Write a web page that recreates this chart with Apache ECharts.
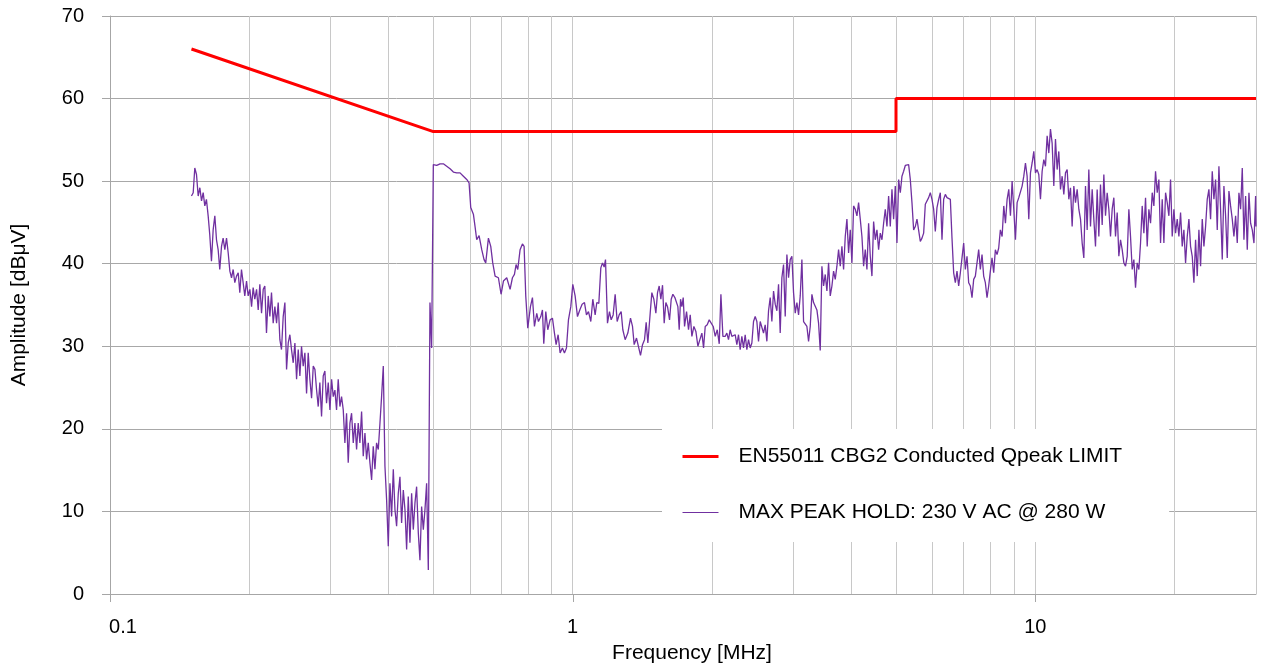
<!DOCTYPE html>
<html>
<head>
<meta charset="utf-8">
<script src="https://cdn.jsdelivr.net/npm/echarts@6/dist/echarts.min.js"></script>
<style>
  html, body { margin: 0; padding: 0; background: #fff; }
  #chart { width: 1262px; height: 665px; }
</style>
</head>
<body>
<div id="chart"></div>
<script>
// EN55011 class B group 2 conducted quasi-peak limit: [MHz, dBuV]
const limitLine = [[0.15, 66], [0.5, 56], [5, 56], [5, 60], [30, 60]];

// Max peak hold scan, 230 V AC @ 280 W: [MHz, dBuV], split by frequency band
const scanBandA = [
  [0.1500,48.2],[0.1513,48.6],[0.1525,51.6],[0.1538,50.8],[0.1551,48.2],[0.1564,49.2],[0.1577,47.6],[0.1590,48.6],[0.1603,47.0],[0.1616,47.8],[0.1630,45.8],[0.1643,43.5],
  [0.1657,40.3],[0.1671,44.1],[0.1685,45.8],[0.1699,42.9],[0.1713,41.7],[0.1727,39.3],[0.1742,42.1],[0.1756,43.1],[0.1771,41.7],[0.1786,43.1],[0.1801,41.3],[0.1816,39.1],
  [0.1831,38.3],[0.1846,39.3],[0.1861,37.7],[0.1877,38.5],[0.1893,38.9],[0.1908,36.5],[0.1924,39.3],[0.1940,37.7],[0.1956,36.1],[0.1973,37.9],[0.1989,36.1],[0.2006,36.9],
  [0.2023,34.8],[0.2039,37.1],[0.2056,35.7],[0.2074,36.9],[0.2091,34.4],[0.2108,37.5],[0.2126,34.0],[0.2144,36.9],[0.2161,37.3],[0.2179,31.6],[0.2198,36.1],[0.2216,33.6],
  [0.2234,36.5],[0.2253,32.8],[0.2272,34.8],[0.2291,32.8],[0.2310,35.3],[0.2329,30.8],[0.2348,29.6],[0.2368,33.6],[0.2388,35.3],[0.2408,27.2],[0.2428,30.4],[0.2448,31.4],
  [0.2468,29.6],[0.2489,28.0],[0.2510,30.4],[0.2531,26.0],[0.2552,29.6],[0.2573,26.4],[0.2594,30.0],[0.2616,27.6],[0.2638,29.2],[0.2660,24.3],[0.2682,29.2],[0.2704,26.0],
  [0.2727,23.7],[0.2750,27.6],[0.2773,27.2],[0.2796,24.7],[0.2819,22.7],[0.2842,25.6],[0.2866,21.5],[0.2890,26.4],[0.2914,27.0],[0.2938,23.1],[0.2963,25.6],[0.2988,22.3],
  [0.3013,26.0],[0.3038,23.9],[0.3063,24.7],[0.3088,22.3],[0.3114,26.0],[0.3140,22.7],[0.3166,23.9],[0.3193,22.3],[0.3219,18.3],[0.3246,21.9],[0.3273,15.9],[0.3301,20.7],
  [0.3328,21.9],[0.3356,18.3],[0.3384,20.7],[0.3412,17.5],[0.3440,20.7],[0.3469,18.3],[0.3498,22.1],[0.3527,16.7],[0.3557,19.5],[0.3586,16.3],[0.3616,18.3],[0.3646,15.9],
  [0.3677,13.8],[0.3707,17.9],[0.3738,15.1],[0.3769,18.3],[0.3801,17.5],[0.3833,20.7],[0.3864,23.9],[0.3897,27.6],[0.3929,15.5],[0.3962,11.4],[0.3995,5.8],[0.4028,13.4],
  [0.4062,9.4],[0.4096,15.1],[0.4130,10.2],[0.4164,8.2],[0.4199,12.2],[0.4234,14.2],[0.4269,8.6],[0.4305,12.6],[0.4341,10.2],[0.4377,5.4],[0.4413,11.8],[0.4450,6.2],
  [0.4487,12.2],[0.4525,7.8],[0.4562,11.0],[0.4600,13.0],[0.4639,7.4],[0.4677,4.1],[0.4716,10.6],[0.4756,7.8],[0.4795,10.2],[0.4835,13.4],[0.4876,2.9],[0.4916,35.3],
  [0.4957,29.8],[0.4999,52.0]
];

const scanBandB = [
  [0.5084,51.9],[0.5169,52.1],[0.5255,52.1],[0.5343,51.8],[0.5433,51.5],[0.5524,51.1],[0.5616,51.0],[0.5710,51.0],[0.5806,50.6],[0.5903,50.2],[0.5972,49.8],[0.6022,46.8],
  [0.6102,46.0],[0.6153,44.5],[0.6204,42.9],[0.6277,43.4],[0.6361,41.7],[0.6435,40.5],[0.6489,40.1],[0.6576,43.1],[0.6653,42.1],[0.6719,40.1],[0.6798,38.5],[0.6911,38.3],
  [0.7004,36.3],[0.7086,37.9],[0.7204,38.3],[0.7325,36.9],[0.7411,38.3],[0.7485,38.7],[0.7547,39.9],[0.7610,39.3],[0.7699,41.7],[0.7789,42.4],[0.7854,42.1],[0.7919,36.1],
  [0.7999,32.2],[0.8106,34.8],[0.8187,35.9],[0.8269,32.4],[0.8365,34.0],[0.8435,33.0],[0.8534,33.6],[0.8605,34.4],[0.8662,30.3],[0.8749,34.2],[0.8836,32.0],[0.8940,33.2],
  [0.9044,33.4],[0.9135,31.6],[0.9211,30.2],[0.9303,31.4],[0.9396,29.2],[0.9506,29.8],[0.9601,29.2],[0.9697,29.8],[0.9794,33.2],[0.9909,34.8],[1.0008,37.5],[1.0125,36.1],
  [1.0244,33.6],[1.0363,34.4],[1.0484,35.1],[1.0607,35.3],[1.0713,33.8],[1.0820,34.2],[1.0947,33.0],[1.1056,35.7],[1.1186,33.8],[1.1279,35.3],[1.1392,35.2],[1.1506,39.5],
  [1.1602,40.1],[1.1699,39.6],[1.1777,40.5],[1.1894,32.8],[1.2013,34.2],[1.2114,33.2],[1.2235,33.8],[1.2357,36.3],[1.2481,33.0],[1.2606,33.8],[1.2732,34.2],[1.2838,32.0],
  [1.2988,30.8],[1.3162,31.6],[1.3338,33.4],[1.3472,32.4],[1.3584,30.2],[1.3743,31.0],[1.3880,30.9],[1.4019,28.9],[1.4160,30.2],[1.4301,30.8],[1.4420,32.9],[1.4541,30.4],
  [1.4711,34.0],[1.4833,36.5],[1.4982,35.7],[1.5132,34.0],[1.5258,36.5],[1.5385,37.3],[1.5513,35.7],[1.5643,37.4],[1.5773,32.8],[1.5905,35.3],[1.6037,34.8],[1.6198,33.2],
  [1.6333,35.7],[1.6469,36.3],[1.6634,35.9],[1.6772,36.1],[1.6884,34.8],[1.6997,32.0],[1.7110,35.7],[1.7224,34.8],[1.7339,35.9],[1.7454,32.4],[1.7629,34.2],[1.7805,32.0],
  [1.7954,33.8],[1.8103,31.2],[1.8285,32.4],[1.8468,31.8],[1.8653,30.0],[1.8839,30.8],[1.9028,31.6],[1.9187,29.8],[1.9346,32.4],[1.9540,32.6],[1.9736,33.2],[1.9933,33.2],
  [2.0133,32.4],[2.0334,31.2],[2.0538,32.0],[2.0744,30.3],[2.0917,36.3],[2.1126,31.2]
];

const scanBandC = [
  [2.1365,31.2],[2.1544,31.6],[2.1723,30.8],[2.1904,32.0],[2.2087,31.2],[2.2271,31.0],[2.2457,31.4],[2.2644,30.2],[2.2833,31.4],
  [2.3023,29.6],[2.3215,31.2],[2.3408,29.8],[2.3604,31.4],[2.3800,29.6],[2.3999,30.8],[2.4199,29.8],[2.4400,30.4],[2.4604,33.0],[2.4809,33.6],[2.5016,33.0],[2.5224,30.6],
  [2.5435,33.0],[2.5647,32.8],[2.5861,31.6],[2.6076,32.6],[2.6294,30.6],[2.6513,34.3],[2.6734,35.9],[2.6957,33.0],[2.7181,36.7],[2.7408,35.1],[2.7637,34.3],[2.7867,37.5],
  [2.8099,31.6],[2.8333,38.3],[2.8569,39.9],[2.8808,33.6],[2.9048,41.1],[2.9290,38.3],[2.9534,40.5],[2.9780,40.9],[3.0028,36.5],[3.0279,34.0],[3.0531,35.3],[3.0786,33.8],
  [3.1042,36.1],[3.1301,40.5],[3.1562,33.0],[3.1825,33.2],[3.2090,32.4],[3.2358,30.6],[3.2627,32.4],[3.2899,36.3],[3.3173,35.3],[3.3450,35.1],[3.3729,34.4],[3.4010,32.8],
  [3.4293,29.5],[3.4579,39.7],[3.4867,37.3],[3.5158,38.7],[3.5451,36.7],[3.5746,40.1],[3.6044,36.1],[3.6345,37.3],[3.6648,39.1],[3.6953,38.1],[3.7261,39.7],[3.7572,41.7],
  [3.7885,39.7],[3.8201,42.1],[3.8519,39.3],[3.8840,43.3],[3.9164,45.4],[3.9491,41.3],[3.9820,44.1],[4.0152,40.1],[4.0486,47.0],[4.0824,46.6],[4.1164,45.8],[4.1507,47.4],
  [4.1853,45.4],[4.2202,43.3],[4.2554,39.7],[4.2908,41.7],[4.3266,39.3],[4.3627,44.9],[4.3990,40.9],[4.4357,38.5],[4.4727,45.1],[4.5100,42.9],[4.5476,44.1],[4.5855,41.7],
  [4.6237,43.7],[4.6622,42.9],[4.7011,44.9],[4.7403,46.6],[4.7798,44.5],[4.8197,48.2],[4.8598,44.5],[4.9003,49.0],[4.9412,45.4],[4.9824,49.4],[5.0239,42.5],[5.0658,50.2],
  [5.1080,48.6],[5.1506,50.6],[5.1935,51.2],[5.2368,51.9],[5.2805,51.8],[5.3245,52.0],[5.3689,50.2],[5.4136,47.4],[5.4587,44.1],[5.5042,44.5],[5.5501,45.4],[5.5964,45.6],
  [5.6430,42.7],[5.6900,43.1],[5.7375,43.7],[5.7853,47.2],[5.8335,47.4],[5.8822,48.0],[5.9312,48.6],[5.9806,47.8],[6.0305,46.6],[6.0807,43.9],[6.1314,46.8],[6.1825,47.8],
  [6.2341,48.6],[6.2861,42.9],[6.3385,47.8],[6.3913,48.4],[6.4446,48.0],[6.4983,47.9],[6.5525,47.8],[6.6071,43.1],[6.6622,38.9],[6.7177,37.7],[6.7737,39.1],[6.8302,37.3],
  [6.8871,38.9],[6.9445,40.7],[7.0024,42.5],[7.0608,39.3],[7.1196,40.9],[7.1790,37.7],[7.2388,37.3],[7.2991,35.9],[7.3600,38.1],[7.4213,38.5],[7.4832,38.7],[7.5456,41.7],
  [7.6084,39.3],[7.6718,41.1],[7.7358,38.5],[7.8003,37.7],[7.8653,35.9],[7.9308,37.3],[7.9970,39.1],[8.0636,40.7],[8.1308,38.9],[8.1986,41.7],[8.2670,41.1],[8.3359,41.9],
  [8.4053,44.1]
];

const scanBandD = [
  [8.4786,43.3],[8.5493,47.0],[8.6206,44.9],[8.6924,47.8],[8.7649,49.0],
  [8.8379,45.8],[8.9116,50.0],[8.9859,46.6],[9.0608,42.9],[9.1363,47.4],[9.2124,48.0],[9.2892,48.2],[9.3667,49.4],[9.4447,50.6],[9.5235,52.2],[9.6028,50.6],[9.6829,45.4],
  [9.7636,51.0],[9.8450,52.2],[9.9271,53.6],[10.010,51.0],[10.093,51.4],[10.177,50.8],[10.262,47.8],[10.348,51.2],[10.434,52.6],[10.521,51.8],[10.609,55.5],[10.697,53.4],
  [10.786,56.3],[10.876,54.6],[10.967,49.4],[11.058,55.1],[11.150,51.4],[11.243,53.6],[11.337,49.0],[11.432,50.6],[11.527,48.4],[11.623,51.0],[11.720,51.4],[11.818,47.8],
  [11.916,49.2],[12.015,44.5],[12.116,49.4],[12.217,47.4],[12.318,49.0],[12.421,46.6],[12.525,45.4],[12.629,42.5],[12.734,40.7],[12.840,49.4],[12.947,44.1],[13.055,51.4],
  [13.164,44.5],[13.274,49.0],[13.384,45.4],[13.496,42.1],[13.608,49.0],[13.722,43.3],[13.836,49.6],[13.952,44.7],[14.068,50.8],[14.185,45.8],[14.303,48.6],[14.423,46.6],
  [14.543,43.3],[14.664,46.6],[14.786,48.0],[14.910,43.3],[15.034,46.2],[15.159,40.9],[15.286,42.9],[15.413,41.7],[15.541,40.1],[15.671,39.7],[15.802,40.9],[15.933,46.6],
  [16.066,43.3],[16.200,39.3],[16.335,40.5],[16.471,37.1],[16.608,40.1],[16.747,39.3],[16.887,42.5],[17.027,47.0],[17.169,43.7],[17.312,48.0],[17.457,42.1],[17.602,46.6],
  [17.749,44.9],[17.897,48.6],[18.046,47.0],[18.196,51.2],[18.348,48.6],[18.501,50.2],[18.655,42.5],[18.811,47.8],[18.968,42.5],[19.126,48.6],[19.285,47.4],[19.446,45.8],
  [19.608,50.2],[19.771,43.3],[19.936,46.6],[20.102,43.7],[20.270,45.4],[20.439,43.3],[20.609,46.2],[20.781,42.1],[20.954,44.1],[21.129,40.1],[21.305,43.3],[21.483,45.4],
  [21.662,42.1],[21.842,40.9],[22.024,37.7],[22.208,42.9],[22.393,38.5],[22.580,44.1],[22.768,39.7],[22.958,45.4],[23.149,42.1],[23.342,44.5],[23.536,47.8],[23.733,49.0],
  [23.930,45.4],[24.130,51.2],[24.331,47.8],[24.534,50.2],[24.738,44.1],[24.944,51.8],[25.152,46.6],[25.362,40.5],[25.573,49.4],[25.787,45.8],[26.002,40.7],[26.218,48.8],
  [26.437,47.0],[26.657,45.4],[26.879,43.3],[27.104,45.8],[27.329,42.5],[27.557,48.6],[27.787,46.6],[28.019,51.6],[28.252,42.9],[28.488,48.2],[28.725,41.7],[28.965,48.6],
  [29.206,44.9],[29.449,44.1],[29.695,42.5],[29.942,48.2],[30.000,44.5]
];

// Log-axis gridlines between the decades, plus the closing edge at 30 MHz
const minorGridFreqs = [0.2, 0.3, 0.4, 0.5, 0.6, 0.7, 0.8, 0.9, 2, 3, 4, 5, 6, 7, 8, 9, 20, 30];
const xTickLabels = [0.1, 1, 10];

const LIMIT_NAME = 'EN55011 CBG2 Conducted Qpeak LIMIT';
const SCAN_NAME = 'MAX PEAK HOLD: 230 V AC @ 280 W';
const FONT = '"Liberation Sans", Arial, Helvetica, sans-serif';
const AXIS_GREY = '#a6a6a6';

const scanData = [].concat(scanBandA, scanBandB, scanBandC, scanBandD);

const chart = echarts.init(document.getElementById('chart'), null, { renderer: 'canvas' });

chart.setOption({
  animation: false,
  backgroundColor: '#ffffff',
  textStyle: { fontFamily: FONT },
  grid: { left: 110, right: 6, top: 16, bottom: 71, containLabel: false, outerBoundsMode: 'none' },
  xAxis: {
    type: 'log',
    logBase: 10,
    min: 0.1,
    max: 30,
    name: 'Frequency [MHz]',
    nameLocation: 'middle',
    nameGap: 49,
    nameTextStyle: { fontFamily: FONT, fontSize: 21, color: '#000', padding: [0, 0, 0, 18] },
    axisLine: { show: true, lineStyle: { color: AXIS_GREY, width: 1 } },
    // decade ticks are drawn below as graphics so the 30 MHz edge gets none
    axisTick: { show: false },
    axisLabel: {
      margin: 23,
      fontFamily: FONT,
      fontSize: 20,
      lineHeight: 20,
      color: '#000',
      formatter: function (v) {
        const hit = xTickLabels.find(t => Math.abs(t - v) < 1e-9 * Math.max(1, t));
        if (hit === undefined) return '';
        if (hit === xTickLabels[0]) return '{first|' + hit + '}';
        return String(hit);
      },
      rich: {
        first: { fontFamily: FONT, fontSize: 20, lineHeight: 20, color: '#000', padding: [0, 0, 0, 26] }
      }
    },
    splitLine: { show: true, lineStyle: { color: '#c8c8c8', width: 1 } }
  },
  yAxis: {
    type: 'value',
    min: 0,
    max: 70,
    interval: 10,
    name: 'Amplitude [dB\u03bcV]',
    nameLocation: 'middle',
    nameGap: 80,
    nameTextStyle: { fontFamily: FONT, fontSize: 21, color: '#000' },
    axisLine: { show: true, lineStyle: { color: AXIS_GREY, width: 1 } },
    axisTick: { show: true, length: 8, lineStyle: { color: AXIS_GREY } },
    axisLabel: { margin: 26, fontFamily: FONT, fontSize: 20, color: '#000' },
    splitLine: { show: true, lineStyle: { color: '#a8a8a8', width: 1 } }
  },
  legend: {
    orient: 'vertical',
    left: 662,
    top: 429,
    data: [
      { name: LIMIT_NAME, lineStyle: { width: 3, color: '#ff0000' } },
      { name: SCAN_NAME, lineStyle: { width: 1, color: '#7030a0' } }
    ],
    itemWidth: 36,
    itemHeight: 14,
    itemGap: 35,
    padding: [17, 47, 19, 19],
    backgroundColor: '#ffffff',
    selectedMode: false,
    itemStyle: { opacity: 0 },
    textStyle: { fontFamily: FONT, fontSize: 21, lineHeight: 21, color: '#000', padding: [0, 0, 0, 15] }
  },
  series: [
    {
      name: 'minor grid',
      type: 'line',
      data: [],
      z: 1,
      silent: true,
      markLine: {
        z: 1,
        silent: true,
        symbol: ['none', 'none'],
        label: { show: false },
        emphasis: { disabled: true },
        lineStyle: { color: '#c8c8c8', width: 1, type: 'solid' },
        data: minorGridFreqs.map(f => ({ xAxis: f }))
      }
    },
    {
      name: SCAN_NAME,
      type: 'line',
      data: scanData,
      showSymbol: false,
      symbol: 'none',
      z: 2,
      lineStyle: { color: '#7030a0', width: 1.3 },
      itemStyle: { color: '#7030a0' }
    },
    {
      name: LIMIT_NAME,
      type: 'line',
      data: limitLine,
      showSymbol: false,
      symbol: 'none',
      z: 3,
      lineStyle: { color: '#ff0000', width: 3 },
      itemStyle: { color: '#ff0000' }
    }
  ]
});

// Outward tick marks at the labelled decades, positioned through the axis scale
const axisY = chart.convertToPixel({ yAxisIndex: 0 }, 0);
chart.setOption({
  graphic: xTickLabels.map((f, i) => {
    const x = Math.round(chart.convertToPixel({ xAxisIndex: 0 }, f)) + 0.5;
    return {
      type: 'line',
      id: 'decade-tick-' + i,
      silent: true,
      shape: { x1: x, y1: axisY, x2: x, y2: axisY + 8 },
      style: { stroke: AXIS_GREY, lineWidth: 1 }
    };
  })
});
</script>
</body>
</html>
